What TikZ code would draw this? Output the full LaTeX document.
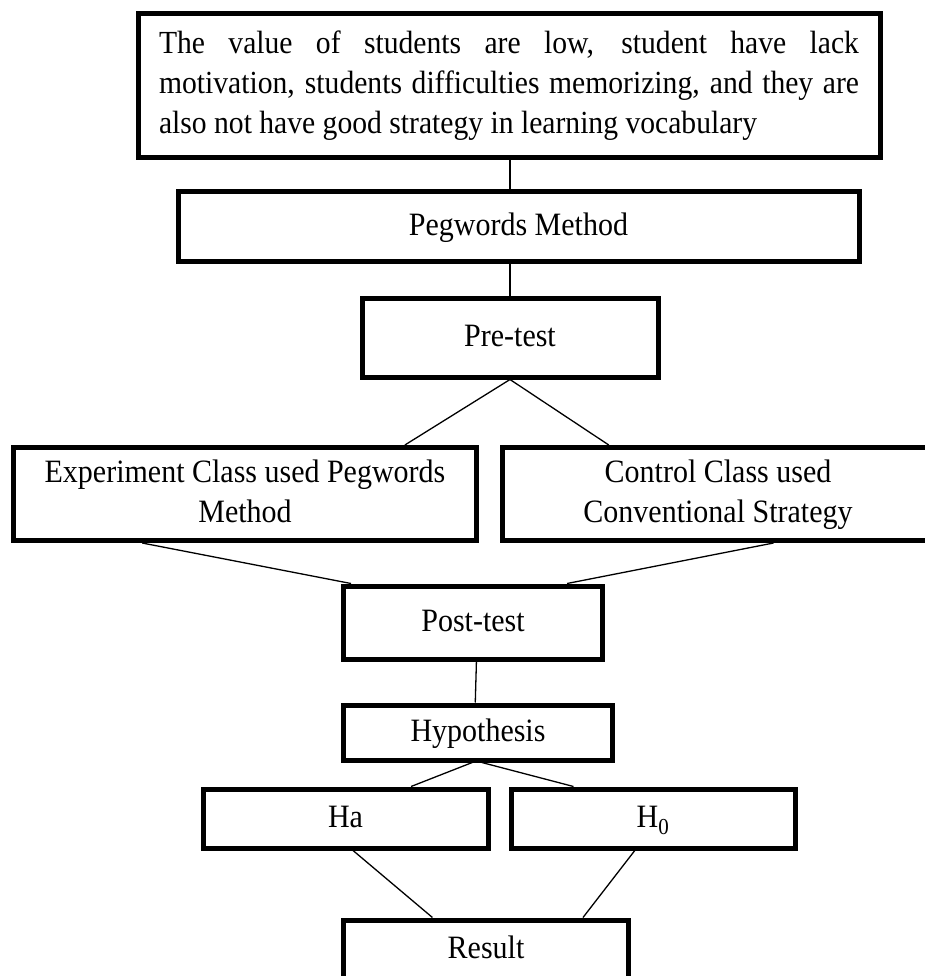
\documentclass[tikz,border=0pt]{standalone}
\usepackage{fontspec}
\setmainfont{Liberation Serif}[FakeStretch=0.92]
\usetikzlibrary{calc}
\begin{document}
\begin{tikzpicture}[x=1pt,y=-1pt,
  box/.style={draw, line width=5pt, inner sep=0pt, align=center,
    font=\fontsize{32.6}{40}\selectfont},
  one/.style={text height=25pt, text depth=6.4pt},
  conn/.style={line width=1.3pt}]
\useasboundingbox (0,0) rectangle (925,976);
\node[box, minimum width=742pt, minimum height=144pt, text width=700pt, align=justify,
  font=\fontsize{32.2}{40}\selectfont] (top) at (509,86)
  {The value of students are low, student have lack\linebreak
   motivation, students difficulties memorizing, and they are\linebreak
   also not have good strategy in learning vocabulary};
\node[box, one, minimum width=681pt, minimum height=69pt] (peg) at (518.5,226.5) {Pegwords Method};
\node[box, one, minimum width=296pt, minimum height=79pt] (pre) at (510,337.5) {Pre-test};
\node[box, minimum width=462.5pt, minimum height=93pt] (exp) at (245,494) {\strut Experiment Class used Pegwords\\\strut Method};
\node[box, minimum width=432pt, minimum height=93pt] (ctl) at (718,494) {\strut Control Class used\\\strut Conventional Strategy};
\node[box, one, minimum width=258.5pt, minimum height=73pt] (post) at (473,622.5) {Post-test};
\node[box, one, minimum width=268.5pt, minimum height=55pt] (hyp) at (478,732.5) {Hypothesis};
\node[box, one, minimum width=285pt, minimum height=59pt] (ha) at (345.5,818.5) {Ha};
\node[box, one, minimum width=284pt, minimum height=59pt] (hz) at (653,818.5) {H\textsubscript{0}};
\node[box, one, minimum width=284.5pt, minimum height=58pt] (res) at (486,949) {Result};

\draw[conn] (peg.north -| pre.center) -- (top.south -| pre.center);
\draw[conn] (pre.north) -- (peg.south -| pre.north);
\draw[conn] (pre.south) -- ($(exp.north west)!0.842!(exp.north east)$);
\draw[conn] (pre.south) -- ($(ctl.north west)!0.25!(ctl.north east)$);
\draw[conn] ($(exp.south west)!0.28!(exp.south east)$) -- ($(post.north west)!0.037!(post.north east)$);
\draw[conn] ($(ctl.south west)!0.627!(ctl.south east)$) -- ($(post.north west)!0.857!(post.north east)$);
\draw[conn] ($(post.south west)!0.513!(post.south east)$) -- ($(hyp.north west)!0.49!(hyp.north east)$);
\draw[conn] ($(hyp.south west)!0.479!(hyp.south east)$) -- ($(ha.north west)!0.726!(ha.north east)$);
\draw[conn] ($(hyp.south west)!0.514!(hyp.south east)$) -- ($(hz.north west)!0.225!(hz.north east)$);
\draw[conn] ($(ha.south west)!0.526!(ha.south east)$) -- ($(res.north west)!0.315!(res.north east)$);
\draw[conn] ($(hz.south west)!0.437!(hz.south east)$) -- ($(res.north west)!0.835!(res.north east)$);
\end{tikzpicture}
\end{document}
